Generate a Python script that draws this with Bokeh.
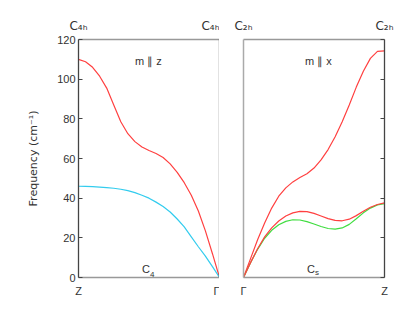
from bokeh.plotting import figure
from bokeh.layouts import row
from bokeh.models import Range1d, FixedTicker, LinearAxis, Label
from bokeh.embed import file_html
from bokeh.resources import INLINE

# Left panel: Z -> Gamma
left_x = [0.0, 0.05, 0.10, 0.15, 0.20, 0.25, 0.30, 0.35, 0.40, 0.45, 0.50,
          0.55, 0.60, 0.65, 0.70, 0.75, 0.80, 0.85, 0.90, 0.95, 1.0]
left_red = [110.0, 108.8, 106.0, 101.5, 95.5, 87.0, 78.5, 72.5, 68.5, 65.8, 64.0,
            62.5, 60.5, 57.3, 53.0, 47.8, 41.5, 33.5, 23.5, 12.0, 0.0]
left_cyan = [46.0, 45.95, 45.8, 45.6, 45.3, 45.0, 44.5, 43.8, 42.8, 41.5, 40.0,
             38.0, 35.8, 33.0, 29.5, 25.5, 20.5, 15.5, 10.8, 5.5, 0.0]

# Right panel: Gamma -> Z
right_x = [0.0, 0.05, 0.10, 0.15, 0.20, 0.25, 0.30, 0.35, 0.40, 0.45, 0.50,
           0.55, 0.60, 0.65, 0.70, 0.75, 0.80, 0.85, 0.90, 0.95, 1.0]
right_red1 = [0.0, 9.5, 19.0, 27.5, 35.0, 41.0, 45.2, 48.2, 50.4, 52.3, 55.2,
              59.3, 64.5, 71.0, 78.5, 87.0, 96.0, 104.0, 110.5, 114.0, 114.3]
right_red2 = [0.0, 7.5, 14.5, 20.5, 25.0, 28.5, 31.0, 32.6, 33.3, 33.2, 32.3,
              31.0, 29.7, 28.8, 28.6, 29.4, 31.2, 33.4, 35.4, 36.8, 37.6]
right_green = [0.0, 7.4, 14.2, 19.8, 23.8, 26.6, 28.3, 29.1, 29.0, 28.2, 27.0,
               25.7, 24.7, 24.4, 25.0, 26.8, 29.6, 32.6, 35.0, 36.6, 37.2]

yticks = [0, 20, 40, 60, 80, 100, 120]

FONT = "Liberation Sans"
SFONT = "DejaVu Sans"
RED = "#ff4040"
CYAN = "#33ccee"
GREEN = "#40dd40"
DARK = "#444444"
GRAY = "#999999"
LIGHT = "#aaaaaa"
TXT = "#333333"


def base(width, bl, br):
    p = figure(width=width, height=314, output_backend="svg", toolbar_location=None,
               x_range=Range1d(0, 1), y_range=Range1d(0, 120),
               min_border_left=bl, min_border_right=br, min_border_top=39, min_border_bottom=37,
               x_axis_location=None, y_axis_location=None)
    p.grid.visible = False
    p.outline_line_color = None
    p.background_fill_color = "white"
    p.border_fill_color = "white"
    return p


def bottom_axis(p, labels):
    ax = LinearAxis(ticker=FixedTicker(ticks=[0, 1]), major_label_overrides={0: labels[0], 1: labels[1]})
    ax.axis_line_color = GRAY
    ax.axis_line_width = 1.5
    ax.major_tick_line_color = None
    ax.minor_tick_line_color = None
    ax.major_label_standoff = 1
    ax.major_label_text_font = FONT
    ax.major_label_text_font_size = "11px"
    ax.major_label_text_color = TXT
    p.add_layout(ax, "below")


def top_axis(p, label):
    ax = LinearAxis(ticker=FixedTicker(ticks=[0, 1]), major_label_overrides={0: label, 1: label})
    ax.axis_line_color = GRAY
    ax.axis_line_width = 1.5
    ax.major_tick_line_color = None
    ax.minor_tick_line_color = None
    ax.major_label_standoff = 1
    ax.major_label_text_font = SFONT
    ax.major_label_text_font_size = "12px"
    ax.major_label_text_color = TXT
    p.add_layout(ax, "above")


def point_label(p, main, sub):
    p.add_layout(Label(x=0.5, y=0, text=main, x_offset=-7, y_offset=3,
                       text_font=FONT, text_font_size="11px", text_color=TXT))
    p.add_layout(Label(x=0.5, y=0, text=sub, x_offset=1, y_offset=1,
                       text_font=FONT, text_font_size="8px", text_color=TXT))


# ---- left panel ----
p1 = base(219, 78, 0)
la = LinearAxis(ticker=FixedTicker(ticks=yticks), axis_label="Frequency (cm⁻¹)")
la.axis_line_color = DARK
la.axis_line_width = 1.3
la.major_tick_in = 4
la.major_tick_out = 0
la.major_tick_line_color = DARK
la.minor_tick_line_color = None
la.major_label_text_font = FONT
la.major_label_text_font_size = "11px"
la.major_label_text_color = TXT
la.major_label_standoff = 3
la.axis_label_text_font = SFONT
la.axis_label_text_font_size = "11px"
la.axis_label_text_font_style = "normal"
la.axis_label_text_color = TXT
la.axis_label_standoff = 14
p1.add_layout(la, "left")
ra = LinearAxis(ticker=FixedTicker(ticks=[]))
ra.axis_line_color = DARK
ra.axis_line_width = 1.3
p1.add_layout(ra, "right")
bottom_axis(p1, ["Z", "Γ"])
top_axis(p1, "C₄ₕ")
p1.line(left_x, left_red, line_color=RED, line_width=1.2)
p1.line(left_x, left_cyan, line_color=CYAN, line_width=1.2)
p1.add_layout(Label(x=0.5, y=120, text="m ∥ z", x_offset=-14, y_offset=-27,
                    text_font=FONT, text_font_size="11px", text_color=TXT))
point_label(p1, "C", "4")

# ---- right panel ----
p2 = base(190, 24, 25)
lb = LinearAxis(ticker=FixedTicker(ticks=[]))
lb.axis_line_color = LIGHT
lb.axis_line_width = 1.5
p2.add_layout(lb, "left")
rb = LinearAxis(ticker=FixedTicker(ticks=yticks), major_label_overrides={t: "" for t in yticks})
rb.axis_line_color = DARK
rb.axis_line_width = 1.3
rb.major_tick_in = 4
rb.major_tick_out = 0
rb.major_tick_line_color = DARK
rb.minor_tick_line_color = None
p2.add_layout(rb, "right")
bottom_axis(p2, ["Γ", "Z"])
top_axis(p2, "C₂ₕ")
p2.line(right_x, right_red1, line_color=RED, line_width=1.2)
p2.line(right_x, right_green, line_color=GREEN, line_width=1.2)
p2.line(right_x, right_red2, line_color=RED, line_width=1.2)
p2.add_layout(Label(x=0.5, y=120, text="m ∥ x", x_offset=-9, y_offset=-27,
                    text_font=FONT, text_font_size="11px", text_color=TXT))
point_label(p2, "C", "s")

layout = row(p1, p2)
open("out.html", "w").write(file_html(layout, INLINE))
